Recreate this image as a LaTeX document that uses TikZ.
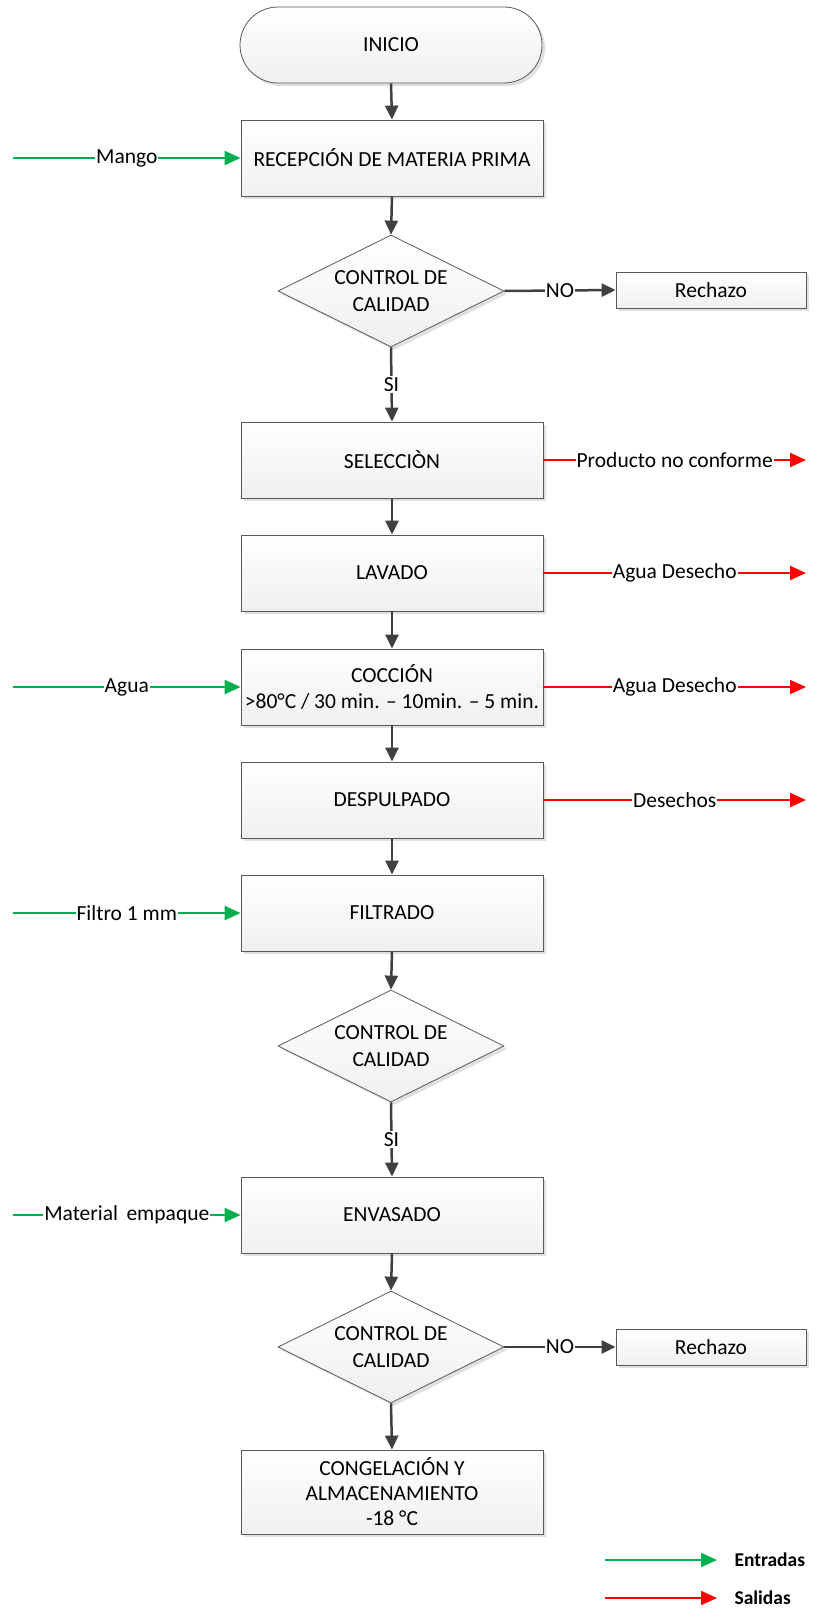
\documentclass[tikz,border=0pt]{standalone}
\usepackage{fontspec}
\setmainfont{Carlito}
\usetikzlibrary{shapes.geometric,shadows,arrows.meta}
\definecolor{ingreen}{HTML}{00B050}
\definecolor{outred}{HTML}{FF0000}
\definecolor{flowc}{HTML}{404040}
\definecolor{boxline}{HTML}{595959}
\begin{document}
\begin{tikzpicture}[x=1pt,y=-1pt,
  font=\fontsize{21.5}{26.5}\selectfont,
  shad/.style={drop shadow={shadow xshift=3pt,shadow yshift=-3pt,fill=gray!40,opacity=0.6}},
  proc/.style={draw=boxline, line width=0.8pt, top color=white, bottom color=gray!12, shad,
    minimum width=302pt, minimum height=76pt, align=center, inner sep=2pt},
  term/.style={proc, rounded corners=38pt},
  dec/.style={diamond, aspect=2, draw=boxline, line width=0.8pt, top color=white, bottom color=gray!12, shad,
    minimum width=226pt, minimum height=112pt, inner sep=0pt, align=center},
  rej/.style={proc, minimum width=190pt, minimum height=36pt},
  flow/.style={draw=flowc, line width=2.5pt, -{Triangle[length=14pt,width=13pt]}},
  inarrow/.style={draw=ingreen, line width=2pt, -{Triangle[length=16pt,width=14pt]}},
  outarrow/.style={draw=outred, line width=2pt, -{Triangle[length=16pt,width=14pt]}},
  lbl/.style={fill=white, inner sep=1pt, text=black},
  legt/.style={anchor=west, font=\fontsize{19.5}{26}\selectfont\bfseries}
]
\useasboundingbox (0,0) rectangle (816,1614);

% main column
\node[term] (inicio) at (391,45) {INICIO};
\node[proc] (recep) at (392,158) {RECEPCIÓN DE MATERIA PRIMA};
\node[dec] (cc1) at (391,291) {CONTROL DE\\CALIDAD};
\node[rej] (rech1) at (711,290) {Rechazo};
\node[proc] (sel) at (392,460) {SELECCIÒN};
\node[proc] (lav) at (392,573) {LAVADO};
\node[proc] (coc) at (392,687) {COCCIÓN\\>80°C / 30 min. – 10min. – 5 min.};
\node[proc] (desp) at (392,800) {DESPULPADO};
\node[proc] (filt) at (392,913) {FILTRADO};
\node[dec] (cc2) at (391,1046) {CONTROL DE\\CALIDAD};
\node[proc] (env) at (392,1215) {ENVASADO};
\node[dec] (cc3) at (391,1347) {CONTROL DE\\CALIDAD};
\node[rej] (rech2) at (711,1347) {Rechazo};
\node[proc, minimum height=84pt, font=\fontsize{21.5}{25}\selectfont] (cong) at (392,1492) {CONGELACIÓN Y\\ALMACENAMIENTO\\-18 °C};

% main flow
\draw[flow] (inicio.south) -- (recep.north);
\draw[flow] (recep.south) -- (cc1.north);
\draw[flow] (cc1.south) -- node[lbl]{SI} (sel.north);
\draw[flow] (cc1.east) -- node[lbl]{NO} (rech1.west);
\draw[flow] (sel.south) -- (lav.north);
\draw[flow] (lav.south) -- (coc.north);
\draw[flow] (coc.south) -- (desp.north);
\draw[flow] (desp.south) -- (filt.north);
\draw[flow] (filt.south) -- (cc2.north);
\draw[flow] (cc2.south) -- node[lbl]{SI} (env.north);
\draw[flow] (env.south) -- (cc3.north);
\draw[flow] (cc3.east) -- node[lbl]{NO} (rech2.west);
\draw[flow] (cc3.south) -- (cong.north);

% inputs
\coordinate (in1) at (13,158);
\coordinate (in2) at (13,687);
\coordinate (in3) at (13,913);
\coordinate (in4) at (13,1215);
\draw[inarrow] (in1) -- node[lbl]{Mango} (recep.west);
\draw[inarrow] (in2) -- node[lbl]{Agua} (coc.west);
\draw[inarrow] (in3) -- node[lbl]{Filtro 1 mm} (filt.west);
\draw[inarrow] (in4) -- node[lbl]{Material\, empaque} (env.west);

% outputs
\coordinate (out1) at (806,460);
\coordinate (out2) at (806,573);
\coordinate (out3) at (806,687);
\coordinate (out4) at (806,800);
\draw[outarrow] (sel.east) -- node[lbl]{Producto no conforme} (out1);
\draw[outarrow] (lav.east) -- node[lbl]{Agua Desecho} (out2);
\draw[outarrow] (coc.east) -- node[lbl]{Agua Desecho} (out3);
\draw[outarrow] (desp.east) -- node[lbl]{Desechos} (out4);

% legend
\coordinate (lg1a) at (605,1560);
\coordinate (lg1b) at (717,1560);
\coordinate (lg2a) at (605,1598);
\coordinate (lg2b) at (717,1598);
\draw[inarrow] (lg1a) -- (lg1b);
\draw[outarrow] (lg2a) -- (lg2b);
\node[legt] (lgt1) at (731,1560) {Entradas};
\node[legt] (lgt2) at (731,1598) {Salidas};
\end{tikzpicture}
\end{document}
